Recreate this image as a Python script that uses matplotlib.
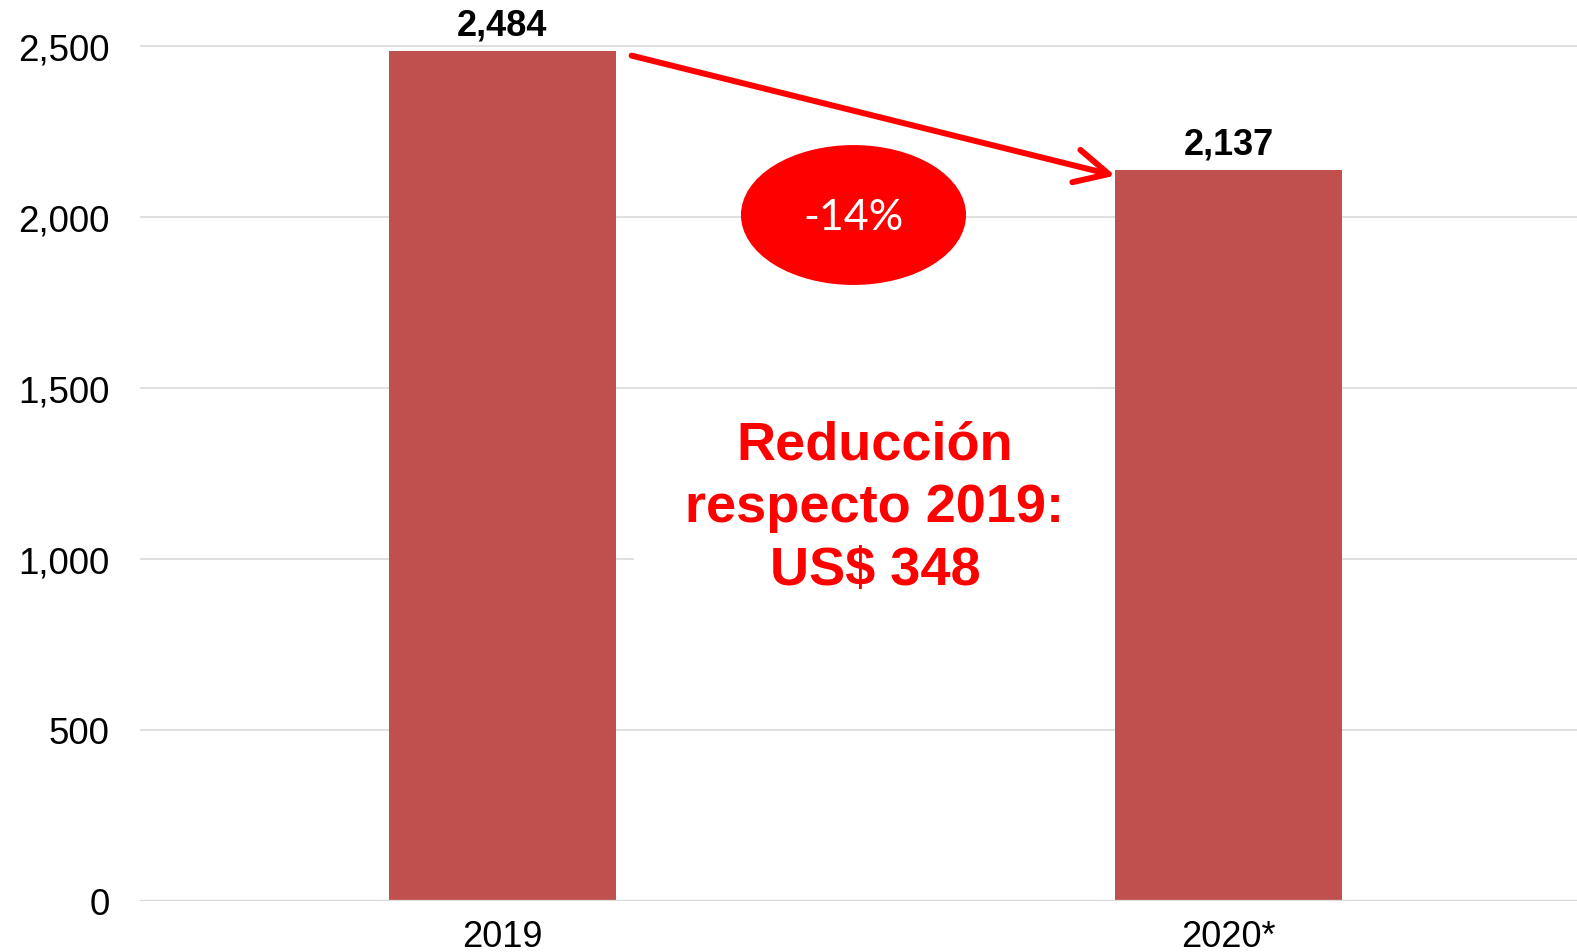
import matplotlib
matplotlib.use("Agg")
import matplotlib.pyplot as plt
from matplotlib.patches import Ellipse, Rectangle, FancyArrowPatch

# data
years = ["2019", "2020*"]
values = [2484, 2137]
labels = ["2,484", "2,137"]
yticks = [0, 500, 1000, 1500, 2000, 2500]
pct_text = "-14%"
note_text = "Reducción\nrespecto 2019:\nUS$ 348"

BAR_COLOR = "#C0504D"
RED = "#FF0000"
GRID = "#D9D9D9"
BAR_W = 0.312

plt.rcParams['font.family'] = ['Liberation Sans', 'DejaVu Sans']

fig = plt.figure(figsize=(15.77, 9.53), dpi=100)
ax = fig.add_axes([140 / 1577, 51.2 / 953, 1437 / 1577, 901.8 / 953])

x = list(range(len(years)))
ax.bar(x, values, width=BAR_W, color=BAR_COLOR, zorder=3)

ax.set_xlim(-0.499, 1.48)
ax.set_ylim(0, 2636.5)

# gridlines, the zero one is a bit heavier
for t in yticks[1:]:
    ax.axhline(t, color=GRID, lw=1.2, zorder=1)
ax.axhline(0, color=GRID, lw=1.7, zorder=4)

ax.set_xticks(x)
ax.set_xticklabels(years, fontsize=26)
ax.set_yticks(yticks)
ax.set_yticklabels(["{:,}".format(t) for t in yticks], fontsize=26.5)
ax.tick_params(axis='x', length=0, pad=13)
ax.tick_params(axis='y', length=0, pad=22)
for s in ax.spines.values():
    s.set_visible(False)

# value labels on top of bars
for xi, v, lab in zip(x, values, labels):
    ax.annotate(lab, (xi, v), xytext=(0, 6), textcoords='offset points',
                ha='center', va='bottom', fontsize=26, fontweight='bold', zorder=5)

# white box behind the note (it hides part of the 1,000 gridline)
ax.add_patch(Rectangle((0.181, 794), (1 - BAR_W / 2) - 0.181, 1452 - 794,
                       facecolor='white', edgecolor='none', zorder=2))
ax.text(0.513, 1150, note_text, ha='center', va='center', multialignment='center',
        fontsize=39, fontweight='bold', color=RED, linespacing=1.33, zorder=5)

# arrow from 2019 bar to 2020 bar
arr = FancyArrowPatch((BAR_W / 2 + 0.022, values[0] - 13), (1 - BAR_W / 2, values[1] - 17),
                      arrowstyle='->,head_length=24,head_width=12', mutation_scale=1,
                      color=RED, lw=4.3, capstyle='round', joinstyle='round',
                      shrinkA=0, shrinkB=0, zorder=6)
ax.add_patch(arr)

# red ellipse with the percentage
ax.add_patch(Ellipse((0.4836, 2005), 0.31, 409, facecolor=RED, edgecolor='none', zorder=5))
ax.text(0.4836, 2000, pct_text, ha='center', va='center', color='white',
        fontsize=31, family=['Lato', 'DejaVu Sans'], fontweight='normal', zorder=6)

fig.savefig("out.png", dpi=100)
